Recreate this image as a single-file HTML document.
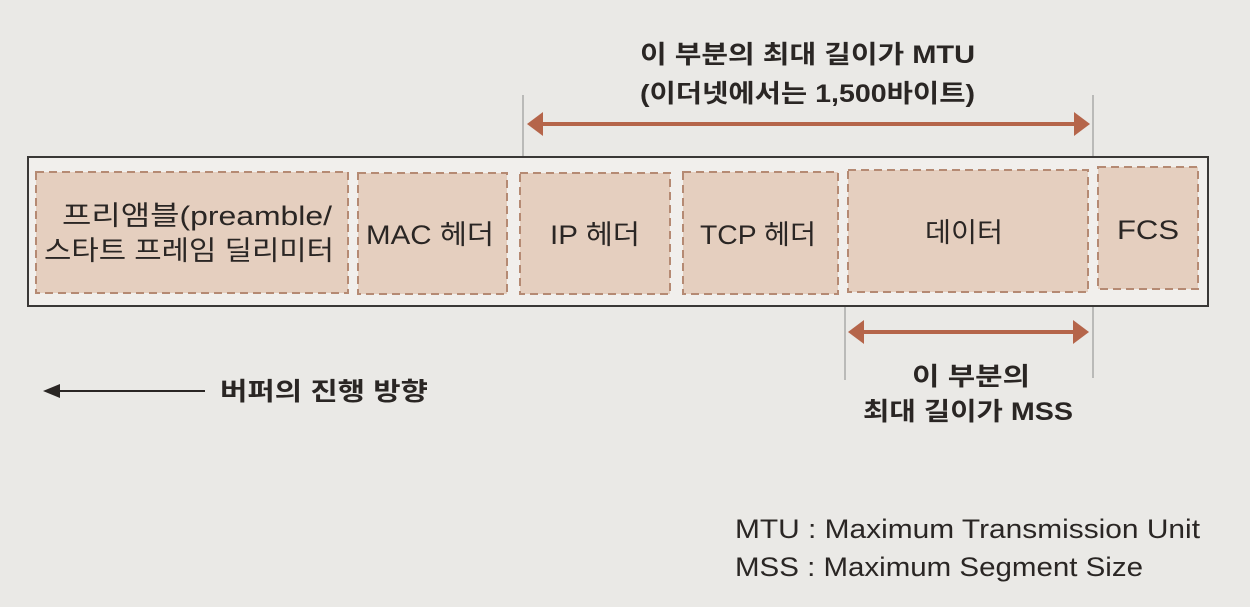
<!DOCTYPE html>
<html><head><meta charset="utf-8"><style>
html,body{margin:0;padding:0;background:#eae9e6;}
svg{display:block;}
text{font-family:"Liberation Sans","Noto Sans CJK KR",sans-serif;fill:#2a2624;}
.b{font-weight:bold;}
</style></head><body>
<svg width="1250" height="607" viewBox="0 0 1250 607" xmlns="http://www.w3.org/2000/svg">
<rect width="1250" height="607" fill="#eae9e6"/>
<g stroke="#9a9a98" stroke-width="1.2">
<line x1="523" y1="95" x2="523" y2="160"/>
<line x1="1093" y1="95" x2="1093" y2="156"/>
<line x1="845" y1="305" x2="845" y2="380"/>
<line x1="1093" y1="305" x2="1093" y2="378"/>
</g>
<rect x="28" y="157" width="1180" height="149" fill="#f1efec" stroke="#3a3836" stroke-width="2"/>
<g fill="#e5cfbf" stroke="#b58a73" stroke-width="2" stroke-dasharray="8,5">
<rect x="36" y="172" width="312" height="121"/>
<rect x="358" y="173" width="149" height="121"/>
<rect x="520" y="173" width="150" height="121"/>
<rect x="683" y="172" width="155" height="122"/>
<rect x="848" y="170" width="240" height="122"/>
<rect x="1098" y="167" width="100" height="122"/>
</g>
<g font-size="27">
<text x="62" y="225" textLength="270" lengthAdjust="spacingAndGlyphs">프리앰블(preamble/</text>
<text x="44" y="260" textLength="290" lengthAdjust="spacingAndGlyphs">스타트 프레임 딜리미터</text>
<text x="366" y="244" textLength="128" lengthAdjust="spacingAndGlyphs">MAC 헤더</text>
<text x="550" y="244" textLength="90" lengthAdjust="spacingAndGlyphs">IP 헤더</text>
<text x="700" y="244" textLength="116" lengthAdjust="spacingAndGlyphs">TCP 헤더</text>
<text x="925" y="242" textLength="78" lengthAdjust="spacingAndGlyphs">데이터</text>
<text x="1117" y="239" textLength="62" lengthAdjust="spacingAndGlyphs">FCS</text>
</g>
<g stroke="#b5654a" stroke-width="4">
<line x1="535" y1="124" x2="1078" y2="124"/>
<line x1="860" y1="332" x2="1076" y2="332"/>
</g>
<g fill="#b5654a">
<polygon points="527,124 543,112 543,136"/>
<polygon points="1090,124 1074,112 1074,136"/>
<polygon points="848,332 864,320 864,344"/>
<polygon points="1089,332 1073,320 1073,344"/>
</g>
<line x1="56" y1="391" x2="205" y2="391" stroke="#2a2624" stroke-width="2"/>
<polygon points="43,391 60,384 60,398" fill="#2a2624"/>
<g font-size="25">
<text class="b" x="640" y="63" textLength="335" lengthAdjust="spacingAndGlyphs">이 부분의 최대 길이가 MTU</text>
<text class="b" x="640" y="102" textLength="335" lengthAdjust="spacingAndGlyphs">(이더넷에서는 1,500바이트)</text>
<text class="b" x="912" y="385" textLength="118" lengthAdjust="spacingAndGlyphs">이 부분의</text>
<text class="b" x="863" y="420" textLength="210" lengthAdjust="spacingAndGlyphs">최대 길이가 MSS</text>
<text class="b" x="220" y="400" textLength="208" lengthAdjust="spacingAndGlyphs">버퍼의 진행 방향</text>
</g>
<g font-size="27">
<text x="735" y="538" textLength="465" lengthAdjust="spacingAndGlyphs">MTU : Maximum Transmission Unit</text>
<text x="735" y="576" textLength="408" lengthAdjust="spacingAndGlyphs">MSS : Maximum Segment Size</text>
</g>
</svg>
</body></html>
